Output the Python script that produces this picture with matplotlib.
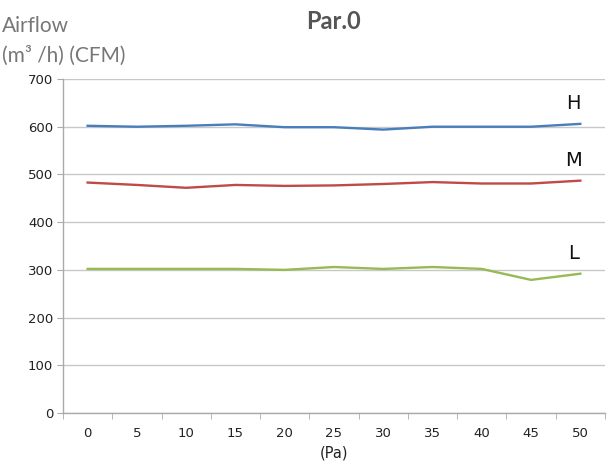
import matplotlib
matplotlib.use("Agg")
import matplotlib.pyplot as plt
import numpy as np

pressure = ["0", "5", "10", "15", "20", "25", "30", "35", "40", "45", "50"]
high = [602, 600, 602, 605, 599, 599, 594, 600, 600, 600, 606]
medium = [483, 478, 472, 478, 476, 477, 480, 484, 481, 481, 487]
low = [302, 302, 302, 302, 300, 306, 302, 306, 302, 279, 292]
y_ticks = [0, 100, 200, 300, 400, 500, 600, 700]

fig = plt.figure(figsize=(6.08, 4.67), dpi=100)
ax = fig.add_axes([0.1036, 0.1156, 0.8914, 0.7152])

x = np.arange(len(pressure))
ax.plot(x, high, color="#4a7ebb", lw=1.7)
ax.plot(x, medium, color="#be4b48", lw=1.7)
ax.plot(x, low, color="#98b954", lw=1.7)

ax.set_xlim(-0.5, len(pressure) - 0.5)
ax.set_ylim(0, 700)
ax.set_yticks(y_ticks)
ax.set_xticks(x)
ax.set_xticklabels(pressure)
ax.set_xticks(np.arange(-0.5, len(pressure), 1), minor=True)
ax.tick_params(axis="x", which="major", length=0, pad=10, labelsize=9.5, labelcolor="#222222")
ax.tick_params(axis="x", which="minor", length=4, color="#aaaaaa")
ax.tick_params(axis="y", length=4, color="#aaaaaa", labelsize=9.5, labelcolor="#222222", pad=3)
ax.yaxis.grid(True, color="#c8c8c8", lw=1)
ax.set_axisbelow(True)
for s in ("top", "right"):
    ax.spines[s].set_visible(False)
for s in ("left", "bottom"):
    ax.spines[s].set_color("#aaaaaa")
    ax.spines[s].set_linewidth(1)

for lbl, val in (("H", high[-1]), ("M", medium[-1]), ("L", low[-1])):
    ax.annotate(lbl, (10, val), xytext=(-5, 8), textcoords="offset points",
                fontsize=14, color="#111111", ha="center", va="bottom")

ax.set_xlabel("(Pa)", fontsize=10.5, color="#222222", labelpad=4)

fig.text(0.548, 0.955, "Par.0", fontsize=17, fontweight="bold", color="#555555",
         ha="center", va="center", family="Lato")
fig.text(0.004, 0.945, "Airflow", fontsize=15, color="#777777", ha="left", va="center",
         family="Lato")
fig.text(0.004, 0.88, "(m³ /h) (CFM)", fontsize=15, color="#777777", ha="left",
         va="center", family="Lato")

fig.savefig("out.png", dpi=100)
